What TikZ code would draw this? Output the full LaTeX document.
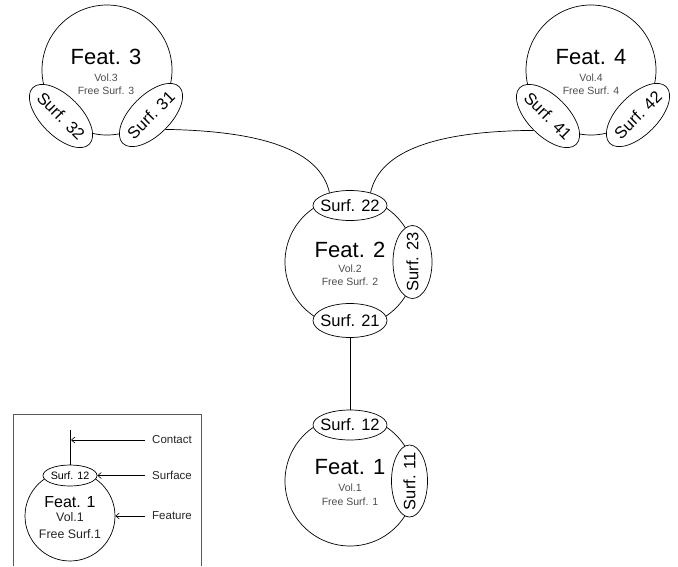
\documentclass[tikz,border=0pt]{standalone}
\usepackage{fontspec}
\setmainfont{Liberation Sans}
\usetikzlibrary{shapes.geometric,arrows.meta}
\newcommand\zw[1]{\makebox[0pt]{#1}}
\begin{document}
\begin{tikzpicture}[x=1pt,y=1pt,
  feat/.style={circle,draw,line width=0.7pt,minimum size=130pt,inner sep=0pt},
  surf/.style={ellipse,draw,fill=white,line width=0.7pt,inner sep=0pt,
    minimum width=74pt,minimum height=30pt,font=\fontsize{16.5}{18}\selectfont},
  dsurf/.style={surf,minimum width=80pt,minimum height=40pt},
  title/.style={anchor=base,inner sep=0pt,font=\fontsize{22}{24}\selectfont},
  sub/.style={anchor=base,inner sep=0pt,font=\fontsize{10.5}{12}\selectfont,text=black!70},
  conn/.style={line width=0.7pt},
  leg/.style={anchor=west,inner sep=0pt,font=\fontsize{11.5}{13}\selectfont,text=black!85},
  arr/.style={line width=0.6pt,-{Straight Barb[length=3.5pt,width=6pt]}}
]
\useasboundingbox (0,0) rectangle (678,-566);

% Feature circles
\node[feat] (f3) at (107,-70) {};
\node[feat] (f4) at (591,-70) {};
\node[feat] (f2) at (350,-262) {};
\node[feat] (f1) at (350,-481) {};

% Feature texts
\node[title] (t3) at (106,-64) {Feat. 3};
\node[sub] (v3) at (106,-81) {Vol.3};
\node[sub] (w3) at (106,-94) {Free Surf. 3};
\node[title] (t4) at (591,-64) {Feat. 4};
\node[sub] (v4) at (591,-81) {Vol.4};
\node[sub] (w4) at (591,-94) {Free Surf. 4};
\node[title] (t2) at (350,-257) {Feat. 2};
\node[sub] (v2) at (350,-272) {Vol.2};
\node[sub] (w2) at (350,-285.5) {Free Surf. 2};
\node[title] (t1) at (350,-474) {Feat. 1};
\node[sub] (v1) at (350,-491.5) {Vol.1};
\node[sub] (w1) at (350,-505) {Free Surf. 1};

% Surfaces
\node[dsurf,rotate=-45] (s32) at (61,-116) {\zw{Surf. 32}};
\node[dsurf,rotate=45] (s31) at (151,-115) {\zw{Surf. 31}};
\node[dsurf,rotate=-45] (s41) at (548,-116) {\zw{Surf. 41}};
\node[dsurf,rotate=45] (s42) at (638,-115) {\zw{Surf. 42}};
\node[surf] (s22) at (350,-205.5) {\zw{Surf. 22}};
\node[surf,minimum height=34pt] (s21) at (350,-320.5) {\zw{Surf. 21}};
\node[surf,rotate=90,minimum width=73pt,minimum height=39pt] (s23) at (412.5,-262) {\zw{Surf. 23}};
\node[surf] (s12) at (350,-425) {\zw{Surf. 12}};
\node[surf,rotate=90,minimum width=72pt,minimum height=36pt] (s11) at (409.5,-481) {\zw{Surf. 11}};

% Contacts
\draw[conn] (s31.south) .. controls (262,-131) and (320,-150) .. (s22.148);
\draw[conn] (s41.south) .. controls (438,-131) and (380,-150) .. (s22.32);
\draw[conn] (s21) -- (s12);

% Legend
\draw[line width=0.7pt,draw=black!65] (13,-566) -- (13,-414) -- (201,-414) -- (201,-566);
\node[feat,minimum size=90pt] (lf) at (70,-516) {};
\node[surf,minimum width=54pt,minimum height=21pt,font=\fontsize{10.7}{12}\selectfont] (ls) at (70,-475.5) {\zw{Surf. 12}};
\node[anchor=base,inner sep=0pt,font=\fontsize{16}{18}\selectfont] (lt) at (70,-507) {Feat. 1};
\node[anchor=base,inner sep=0pt,font=\fontsize{12.4}{14}\selectfont,text=black!85] (lv) at (70,-521.7) {Vol.1};
\node[anchor=base,inner sep=0pt,font=\fontsize{12.4}{14}\selectfont,text=black!85] (lw) at (70,-538) {Free Surf.1};
\coordinate (lc) at (70,-430);
\coordinate (lca) at (71,-440);
\draw[conn] (ls) -- (lc);
\node[leg] (tc) at (152,-440) {Contact};
\node[leg] (ts) at (152,-475.5) {Surface};
\node[leg] (tf) at (152,-516) {Feature};
\draw[arr] ([xshift=-7pt]tc.west) -- (lca);
\draw[arr] ([xshift=-7pt]ts.west) -- (ls.east);
\draw[arr] ([xshift=-7pt]tf.west) -- (lf.east);
\end{tikzpicture}
\end{document}
